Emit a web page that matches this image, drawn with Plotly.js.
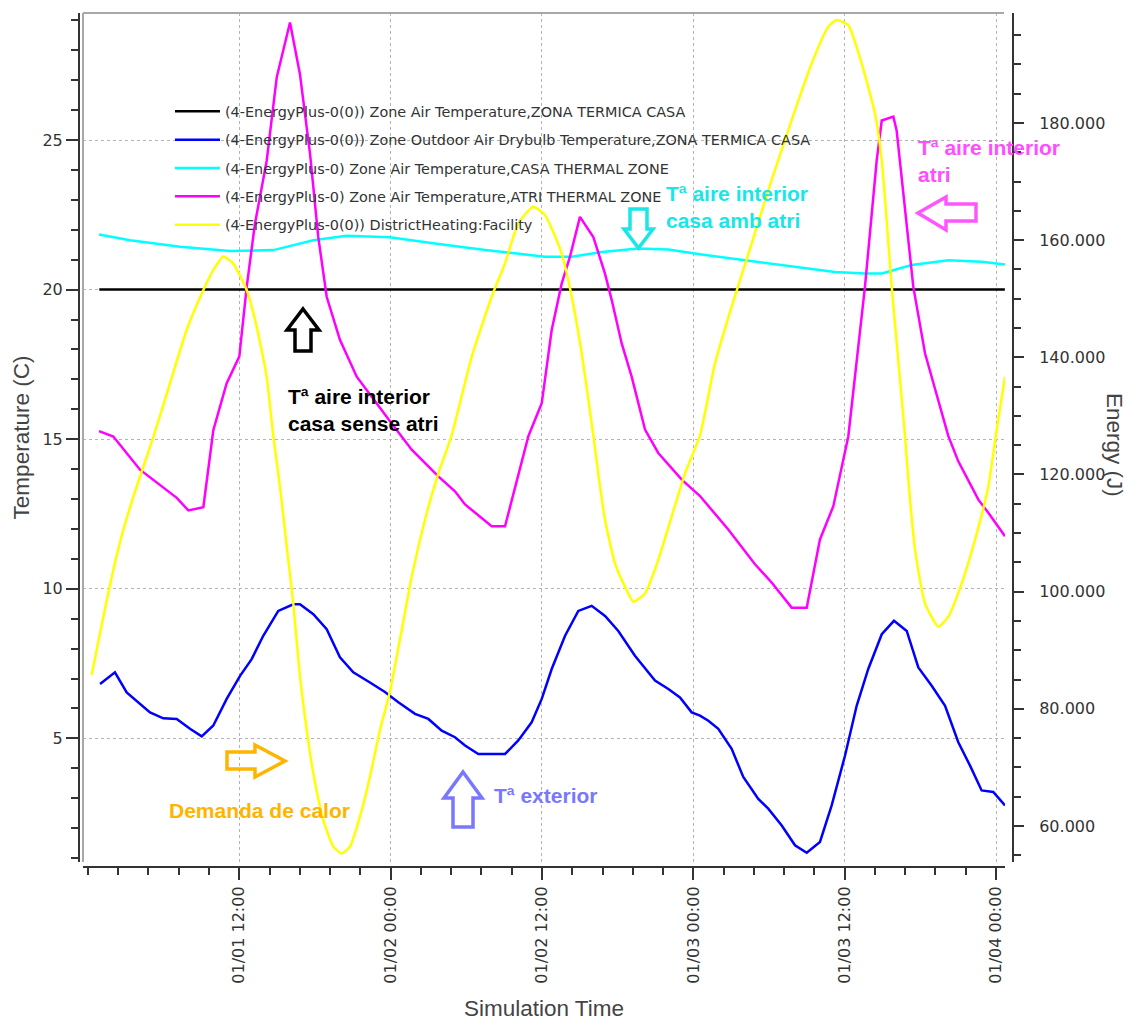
<!DOCTYPE html>
<html>
<head>
<meta charset="utf-8">
<script src="https://cdn.plot.ly/plotly-3.0.1.min.js"></script>
<style>html,body{margin:0;padding:0;background:#fff;}</style>
</head>
<body>
<div id="chart" style="width:1131px;height:1021px;"></div>
<script>
// ---------------- DATA (hours since 01/01 00:00) ----------------
const tickHours = [12, 24, 36, 48, 60, 72];
const tickLabels = ['01/01 12:00', '01/02 00:00', '01/02 12:00', '01/03 00:00', '01/03 12:00', '01/04 00:00'];

const seriesNames = [
  '(4-EnergyPlus-0(0)) Zone Air Temperature,ZONA TERMICA CASA',
  '(4-EnergyPlus-0(0)) Zone Outdoor Air Drybulb Temperature,ZONA TERMICA CASA',
  '(4-EnergyPlus-0) Zone Air Temperature,CASA THERMAL ZONE',
  '(4-EnergyPlus-0) Zone Air Temperature,ATRI THERMAL ZONE',
  '(4-EnergyPlus-0(0)) DistrictHeating:Facility'
];

const hoursSetpoint = [0.9, 72.7];
const tempSetpoint = [20, 20];

const hoursOutdoor = [0.96,2.14,3.07,4.13,4.92,5.97,7.04,8.09,9.02,9.94,11.0,12.06,12.98,13.9,15.09,16.28,16.81,17.87,18.93,19.98,21.04,22.36,23.55,24.61,25.93,26.99,28.05,29.1,29.9,30.95,33.07,34.12,35.18,35.98,36.77,37.83,38.88,39.94,41.0,42.05,43.37,44.96,46.02,46.94,47.87,48.53,49.19,49.98,51.04,51.96,53.15,53.94,55.01,56.06,56.99,58.04,58.97,60.03,60.95,61.87,62.94,63.91,64.92,65.84,66.9,67.96,69.01,69.94,70.86,71.78,72.71];
const tempOutdoor = [6.82,7.21,6.54,6.15,5.87,5.67,5.65,5.32,5.07,5.43,6.32,7.09,7.65,8.43,9.26,9.48,9.48,9.15,8.65,7.71,7.21,6.87,6.55,6.21,5.82,5.65,5.26,5.04,4.76,4.48,4.48,4.93,5.54,6.32,7.32,8.43,9.26,9.43,9.09,8.59,7.76,6.93,6.65,6.37,5.87,5.76,5.59,5.32,4.65,3.71,2.98,2.65,2.09,1.43,1.18,1.54,2.76,4.43,6.09,7.32,8.48,8.93,8.59,7.37,6.76,6.09,4.87,4.09,3.26,3.21,2.76];

const hoursCasa = [0.88,3.34,7.3,11.27,14.7,17.87,20.5,23.95,27.5,31.5,36.26,38.36,40.74,43.64,46.02,48.53,52.1,56.06,59.23,61.61,62.94,65.31,68.22,70.86,72.71];
const tempCasa = [21.84,21.65,21.43,21.29,21.32,21.65,21.8,21.75,21.54,21.32,21.1,21.1,21.26,21.37,21.34,21.18,20.98,20.76,20.59,20.54,20.54,20.82,20.98,20.93,20.84];

const hoursAtri = [0.88,2.01,4.13,5.97,7.04,7.96,9.15,9.94,11.0,12.0,12.59,13.24,14.17,14.97,16.02,16.81,17.61,18.26,18.93,19.98,21.31,23.95,25.67,27.78,29.1,29.9,32.01,33.07,34.92,35.98,36.77,37.56,38.22,39.01,40.07,40.99,41.53,42.32,43.11,44.17,45.22,47.08,48.53,50.77,52.89,54.21,55.8,56.99,58.04,59.1,60.29,61.61,62.54,62.94,63.86,64.12,65.44,66.37,67.3,68.22,69.01,70.6,71.39,72.71];
const tempAtri = [15.27,15.09,13.98,13.37,13.04,12.62,12.73,15.3,16.87,17.76,20.1,22.2,24.3,27.1,28.93,27.2,24.54,21.76,19.76,18.32,17.09,15.6,14.65,13.76,13.26,12.82,12.09,12.09,15.1,16.2,18.65,20.2,21.1,22.43,21.76,20.54,19.65,18.2,17.09,15.32,14.54,13.65,13.1,11.98,10.82,10.21,9.37,9.37,11.65,12.76,15.1,20.1,24.32,25.65,25.78,25.32,20.1,17.87,16.43,15.1,14.26,12.98,12.54,11.76];

const hoursHeat = [0.3,1.22,2.01,2.8,3.6,4.39,5.2,6.51,7.83,9.15,9.94,10.73,11.52,12.59,13.38,14.17,14.7,15.23,15.76,16.28,16.81,17.34,17.87,18.66,19.45,20.12,20.78,21.57,22.36,23.16,23.95,24.88,25.67,26.72,27.78,28.84,30.43,32.01,33.07,34.12,35.31,36.24,37.56,38.36,39.15,40.07,40.46,41.0,41.79,42.58,43.24,44.17,45.22,46.28,47.34,48.53,49.72,51.04,52.63,54.21,55.8,57.39,58.7,59.37,60.29,61.35,62.4,62.94,63.73,64.25,64.78,65.05,65.58,66.37,67.42,68.22,69.28,70.33,71.39,72.05,72.71];
const energyHeat = [85800,95700,103700,110500,116200,121300,126500,135600,144700,151500,154900,157200,156000,151500,145200,136700,126500,117900,107700,98000,85500,76400,69000,61000,56500,55300,56500,61600,68400,76400,83000,93450,102550,112230,120200,126700,140100,150350,156050,162880,165700,164300,157760,150350,140690,126700,120200,112230,104830,100850,98290,99700,105400,112800,120200,126700,138980,148640,159460,170270,180510,190190,196450,197580,196720,190190,181660,173680,152060,139540,126700,119070,107120,98010,94020,95730,101420,108820,117930,127600,136690];

// ---------------- LAYOUT HELPERS ----------------
const W = 1131, H = 1021;
const px = x => x / W;
const py = y => 1 - y / H;
function pathOf(pts) {
  return 'M ' + pts.map(p => px(p[0]) + ',' + py(p[1])).join(' L ') + ' Z';
}
function arrowShape(pts, color) {
  return {type: 'path', xref: 'paper', yref: 'paper', path: pathOf(pts),
          line: {color: color, width: 3.5}, fillcolor: 'rgba(0,0,0,0)'};
}

const tickFont = {family: 'DejaVu Sans, Verdana, sans-serif', size: 16, color: '#333'};
const titleFont = {family: 'Liberation Sans, Arial, sans-serif', size: 22.5, color: '#444'};
const noteFont = (c) => ({family: 'Liberation Sans, Arial, sans-serif', size: 21, color: c});

const traces = [
  {x: hoursSetpoint, y: tempSetpoint, name: seriesNames[0], legendgroup: 'g1', mode: 'lines', line: {color: '#000000', width: 2.5}},
  {x: hoursOutdoor, y: tempOutdoor, name: seriesNames[1], legendgroup: 'g2', mode: 'lines', line: {color: '#0000ff', width: 2.5}},
  {x: hoursCasa, y: tempCasa, name: seriesNames[2], legendgroup: 'g3', mode: 'lines', line: {color: '#00ffff', width: 2.5}},
  {x: hoursAtri, y: tempAtri, name: seriesNames[3], legendgroup: 'g4', mode: 'lines', line: {color: '#ff00ff', width: 2.5}},
  {x: hoursHeat, y: energyHeat, name: seriesNames[4], legendgroup: 'g5', yaxis: 'y2', mode: 'lines', line: {color: '#ffff00', width: 2.5, shape: 'spline', smoothing: 0.5}}
];

const layout = {
  width: W, height: H,
  margin: {l: 0, r: 0, t: 0, b: 0},
  paper_bgcolor: '#ffffff', plot_bgcolor: 'rgba(0,0,0,0)',
  separators: ',.',
  showlegend: true,
  legend: {x: px(170), y: py(95.5), xanchor: 'left', yanchor: 'top', bgcolor: 'rgba(0,0,0,0)',
           font: {family: 'DejaVu Sans, Verdana, sans-serif', size: 14.4, color: '#333'},
           traceorder: 'grouped', tracegroupgap: 6.6, itemwidth: 45},
  xaxis: {
    domain: [px(83), px(1005)], range: [-0.393, 72.712], anchor: 'free', position: py(867),
    showline: true, linecolor: '#333', linewidth: 2,
    ticks: 'outside', ticklen: 12, tickwidth: 1.5, tickcolor: '#333',
    tickmode: 'array', tickvals: tickHours, ticktext: tickLabels, tickangle: -90, tickfont: tickFont,
    showgrid: true, gridcolor: '#b4b4b4', griddash: 'dot', gridwidth: 1, zeroline: false,
    minor: {tick0: 0, dtick: 2.4, ticks: 'outside', ticklen: 7, tickwidth: 1.5, tickcolor: '#333', showgrid: false},
    title: {text: 'Simulation Time', font: titleFont, standoff: 20}
  },
  yaxis: {
    domain: [py(862), py(13)], range: [0.869, 29.245], anchor: 'free', position: px(79), side: 'left',
    showline: true, linecolor: '#333', linewidth: 2,
    ticks: 'outside', ticklen: 12, tickwidth: 1.5, tickcolor: '#333',
    tickmode: 'linear', tick0: 0, dtick: 5, tickfont: tickFont,
    showgrid: true, gridcolor: '#b4b4b4', griddash: 'dot', gridwidth: 1, zeroline: false,
    minor: {tick0: 0, dtick: 1, ticks: 'outside', ticklen: 7, tickwidth: 1.5, tickcolor: '#333', showgrid: false},
    title: {text: 'Temperature (C)', font: titleFont, standoff: 6}
  },
  yaxis2: {
    overlaying: 'y', side: 'right', anchor: 'free', position: px(1013),
    range: [53850, 198780],
    showline: true, linecolor: '#333', linewidth: 2,
    ticks: 'outside', ticklen: 10, tickwidth: 1.5, tickcolor: '#333', ticklabelstandoff: 12,
    tickmode: 'linear', tick0: 0, dtick: 20000, tickformat: ',d', tickfont: tickFont,
    showgrid: false, zeroline: false,
    minor: {tick0: 0, dtick: 5000, ticks: 'outside', ticklen: 7, tickwidth: 1.5, tickcolor: '#333', showgrid: false}
  },
  shapes: [
    {type: 'line', xref: 'paper', yref: 'paper', x0: px(83), x1: px(1004), y0: py(13), y1: py(13), line: {color: '#a8a8a8', width: 2}},
    {type: 'line', xref: 'paper', yref: 'paper', x0: px(83), x1: px(83), y0: py(13), y1: py(862), line: {color: '#a8a8a8', width: 2}},
    // black up arrow
    arrowShape([[303,309],[319,330],[311,330],[311,351],[295,351],[295,330],[287,330]], '#000000'),
    // cyan down arrow
    arrowShape([[630,209],[647,209],[647,229],[653,229],[638.5,248],[624,229],[630,229]], '#19e6e6'),
    // magenta left arrow
    arrowShape([[918,213],[946,197],[946,204],[976,204],[976,221],[946,221],[946,230]], '#ff55ff'),
    // orange right arrow
    arrowShape([[227,752],[255,752],[255,745],[285,761],[255,777],[255,769],[227,769]], '#ffb400'),
    // blue up arrow
    arrowShape([[463,772],[482,798],[473,798],[473,827],[453,827],[453,798],[444,798]], '#7878ff')
  ],
  annotations: [
    {xref: 'paper', yref: 'paper', x: px(1115), y: py(445), text: 'Energy (J)', textangle: 90, showarrow: false, font: titleFont, xanchor: 'center', yanchor: 'middle'},
    {xref: 'paper', yref: 'paper', x: px(286), y: py(410), text: '<b>Tª aire interior<br>casa sense atri</b>', showarrow: false, align: 'left', xanchor: 'left', yanchor: 'middle', font: noteFont('#000000')},
    {xref: 'paper', yref: 'paper', x: px(664), y: py(207), text: '<b>Tª aire interior<br>casa amb atri</b>', showarrow: false, align: 'left', xanchor: 'left', yanchor: 'middle', font: noteFont('#19e6e6')},
    {xref: 'paper', yref: 'paper', x: px(916), y: py(161), text: '<b>Tª aire interior<br>atri</b>', showarrow: false, align: 'left', xanchor: 'left', yanchor: 'middle', font: noteFont('#ff4dff')},
    {xref: 'paper', yref: 'paper', x: px(167), y: py(810), text: '<b>Demanda de calor</b>', showarrow: false, align: 'left', xanchor: 'left', yanchor: 'middle', font: noteFont('#ffb400')},
    {xref: 'paper', yref: 'paper', x: px(492), y: py(795), text: '<b>Tª exterior</b>', showarrow: false, align: 'left', xanchor: 'left', yanchor: 'middle', font: noteFont('#7878ff')}
  ]
};

Plotly.newPlot('chart', traces, layout, {displayModeBar: false, responsive: false});
</script>
</body>
</html>
